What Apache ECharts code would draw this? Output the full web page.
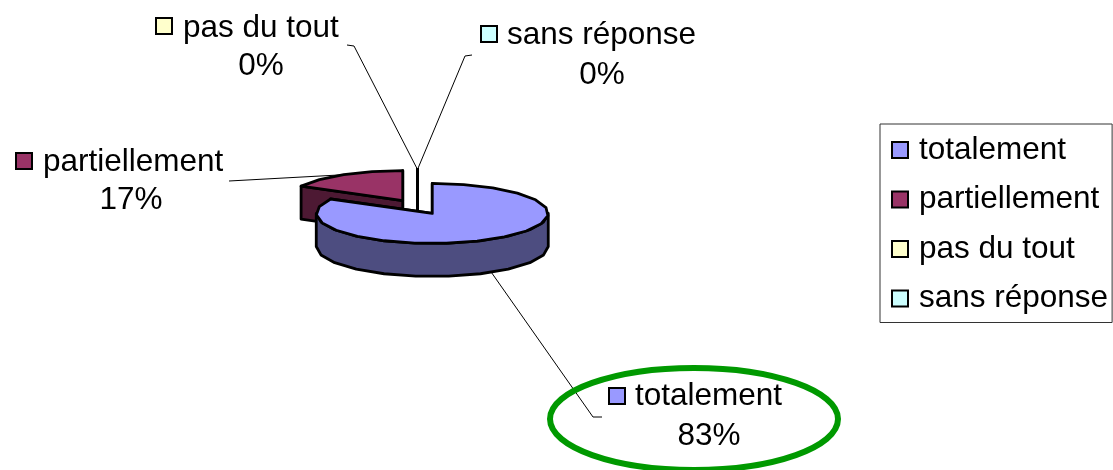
<!DOCTYPE html>
<html><head><meta charset="utf-8">
<style>html,body{margin:0;padding:0;background:#fff}#c{width:1113px;height:470px}</style>
<script src="https://cdn.jsdelivr.net/npm/echarts@6/dist/echarts.min.js"></script>
</head><body><div id="c"></div>
<script>
const categories = ['totalement', 'partiellement', 'pas du tout', 'sans réponse'];
const seriesValues = [83, 17, 0, 0];

const topColors = ['#9999FF', '#993366', '#FFFFCC', '#CCFFFF'];
const sideColors = ['#4D4D80', '#4D1933', '#808066', '#668080'];
const drawOrder = [1, 2, 3, 0];
const FONT = '"Liberation Sans", Arial, sans-serif';
const FS = 31.5;
const PIE = { cx: 417.5, cy: 207, rx: 116, ry: 30, depth: 33, explode: 0.25, step: 16 };
// label layout: icon left, icon y, text left, text y, percent centre, leader elbow and start
const labelLayout = [
  { ix: 609, iy: 396, tx: 635, ty: 396, py: 436, pcx: 709, leader: [[602, 417], [593, 417]] },
  { ix: 16, iy: 161, tx: 43, ty: 162, py: 200, pcx: 131, leader: [[229, 181]] },
  { ix: 156, iy: 26, tx: 183, ty: 28, py: 66, pcx: 261, leader: [[347, 45], [354, 46]] },
  { ix: 481, iy: 34, tx: 507, ty: 35, py: 75, pcx: 602, leader: [[472, 55], [465, 56]] }
];

const total = seriesValues.reduce((a, b) => a + b, 0);
const starts = [];
seriesValues.reduce((acc, v, i) => { starts[i] = acc; return acc + v; }, 0);

function renderSlice(idx) {
  return function () {
    const a0 = starts[idx] / total * 2 * Math.PI;
    const a1 = (starts[idx] + seriesValues[idx]) / total * 2 * Math.PI;
    const mid = (a0 + a1) / 2;
    const ax = PIE.cx + Math.sin(mid) * PIE.rx * PIE.explode;
    const ay = PIE.cy - Math.cos(mid) * PIE.ry * PIE.explode;
    const at = t => [ax + Math.sin(t) * PIE.rx, ay - Math.cos(t) * PIE.ry];
    const low = p => [p[0], p[1] + PIE.depth];
    const arc = (s, e) => {
      const pts = [], st = PIE.step * Math.PI / 180;
      const n = Math.max(1, Math.round((e - s) / st));
      for (let i = 0; i <= n; i++) pts.push(at(s + (e - s) * i / n));
      return pts;
    };
    const stroke = { stroke: '#000', lineWidth: 2.8, lineJoin: 'round' };
    const kids = [];
    // cut faces
    [a1, a0].forEach(t => {
      const e = at(t);
      kids.push({ type: 'polygon', shape: { points: [[ax, ay], e, low(e), low([ax, ay])] },
        style: Object.assign({ fill: sideColors[idx] }, stroke) });
    });
    // front rim
    const fs = Math.max(a0, Math.PI / 2), fe = Math.min(a1, Math.PI * 1.5);
    if (fe > fs) {
      const top = arc(fs, fe);
      kids.push({ type: 'polygon', shape: { points: top.concat(top.map(low).reverse()) },
        style: Object.assign({ fill: sideColors[idx] }, stroke) });
    }
    // top face
    kids.push({ type: 'polygon', shape: { points: [[ax, ay]].concat(a1 > a0 ? arc(a0, a1) : [at(a0)]) },
      style: Object.assign({ fill: topColors[idx] }, stroke) });
    // leader
    const L = labelLayout[idx];
    let anchor = at(mid);
    if (Math.cos(mid) < 0) anchor = low(anchor);
    kids.push({ type: 'polyline', shape: { points: L.leader.concat([anchor]) },
      style: { fill: null, stroke: '#000', lineWidth: 1 } });
    // label
    kids.push({ type: 'rect', shape: { x: L.ix, y: L.iy - 8, width: 16, height: 16 },
      style: { fill: topColors[idx], stroke: '#000', lineWidth: 2 } });
    kids.push({ type: 'text', style: { text: categories[idx], x: L.tx, y: L.ty,
      fontSize: FS, fontFamily: FONT, fill: '#000', textAlign: 'left', textVerticalAlign: 'middle' } });
    kids.push({ type: 'text', style: { text: Math.round(seriesValues[idx] / total * 100) + '%', x: L.pcx, y: L.py,
      fontSize: FS, fontFamily: FONT, fill: '#000', textAlign: 'center', textVerticalAlign: 'middle' } });
    return { type: 'group', children: kids };
  };
}

const chart = echarts.init(document.getElementById('c'), null, { renderer: 'canvas' });
chart.setOption({
  animation: false,
  backgroundColor: '#fff',
  legend: {
    orient: 'vertical', left: 880, top: 124, width: 233,
    padding: [10, 4, 8, 11],
    backgroundColor: '#fff', borderColor: '#333', borderWidth: 1,
    icon: 'rect', itemWidth: 16, itemHeight: 16, itemGap: 17.5,
    selectedMode: false,
    itemStyle: { borderColor: '#000', borderWidth: 2 },
    textStyle: { fontSize: FS, fontFamily: FONT, color: '#000', padding: [0, 0, 0, 6] },
    data: categories
  },
  graphic: [{
    type: 'ellipse', shape: { cx: 694, cy: 419, rx: 144, ry: 51 },
    style: { fill: null, stroke: '#009900', lineWidth: 6 }, z: 10
  }],
  series: drawOrder.map(i => ({
    type: 'custom', name: categories[i], coordinateSystem: 'none',
    itemStyle: { color: topColors[i] },
    data: [seriesValues[i]],
    renderItem: renderSlice(i)
  }))
});
</script></body></html>
